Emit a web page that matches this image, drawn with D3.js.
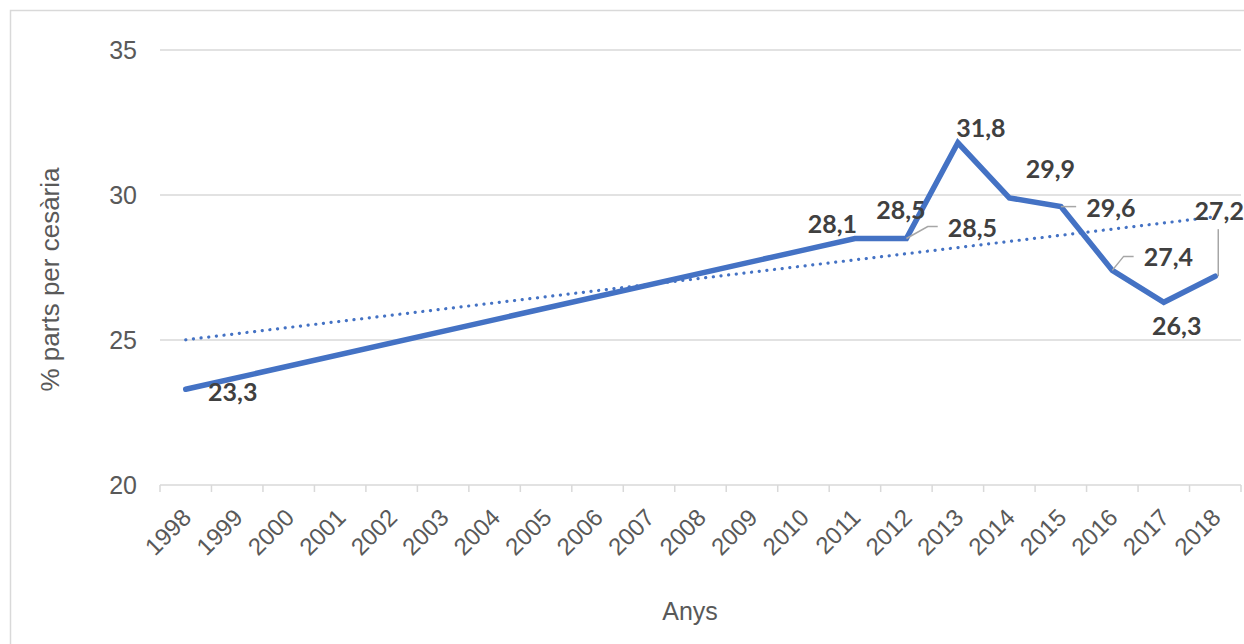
<!DOCTYPE html>
<html>
<head>
<meta charset="utf-8">
<script src="https://cdn.jsdelivr.net/npm/d3@7/dist/d3.min.js"></script>
<style>
  html, body { margin: 0; padding: 0; background: #fff; }
  svg { display: block; }
</style>
</head>
<body>
<svg id="chart" width="1244" height="644"></svg>
<script>
// Caesarean births (% of deliveries) by year
const years = ["1998","1999","2000","2001","2002","2003","2004","2005","2006","2007",
               "2008","2009","2010","2011","2012","2013","2014","2015","2016","2017","2018"];
// null = no data for that year; the line is joined across the gap
const values = [23.3, null, null, null, null, null, null, null, null, null,
                null, null, 28.1, 28.5, 28.5, 31.8, 29.9, 29.6, 27.4, 26.3, 27.2];
const yTicks = [20, 25, 30, 35];
const yTitle = "% parts per cesària";
const xTitle = "Anys";

// Hand-placed data label offsets (from the point) and which ones use a leader line
const labelPlacement = {
  "1998": { dx: 47, dy: 2 },
  "2010": { dx: 29, dy: -27 },
  "2011": { dx: 46, dy: -30 },
  "2012": { dx: 66, dy: -12, leader: "elbow" },
  "2013": { dx: 23, dy: -16 },
  "2014": { dx: 41, dy: -30 },
  "2015": { dx: 50, dy: 0, leader: "elbow" },
  "2016": { dx: 56, dy: -14, leader: "elbow" },
  "2017": { dx: 13, dy: 23 },
  "2018": { dx: 4, dy: -66, leader: "vertical" }
};

const svg = d3.select("#chart");
const plot = { left: 160, right: 1241, top: 50, bottom: 485 };
const blue = "#4472C4";
const grid = "#d9d9d9";
const textGrey = "#595959";
const sans = "'Liberation Sans', Arial, sans-serif";

// Outer chart frame
svg.append("rect")
  .attr("x", 10.5).attr("y", 10.5)
  .attr("width", 1400).attr("height", 800)
  .attr("fill", "#fff").attr("stroke", grid).attr("stroke-width", 1.5);

const x = d3.scaleBand().domain(years).range([plot.left, plot.right]).padding(0);
const y = d3.scaleLinear().domain([20, 35]).range([plot.bottom, plot.top]);
const cx = d => x(d) + x.bandwidth() / 2;

// Horizontal gridlines
svg.append("g")
  .selectAll("line")
  .data(yTicks.filter(t => t !== 20))
  .join("line")
  .attr("x1", plot.left).attr("x2", plot.right)
  .attr("y1", d => y(d)).attr("y2", d => y(d))
  .attr("stroke", grid).attr("stroke-width", 1.5);

// Y axis labels
const yAxis = d3.axisLeft(y).tickValues(yTicks).tickSize(0).tickPadding(0);
const gy = svg.append("g").attr("transform", `translate(${plot.left - 23},0)`).call(yAxis);
gy.select(".domain").remove();
gy.selectAll("text")
  .attr("fill", textGrey)
  .style("font-family", sans)
  .style("font-size", "25px");

// X axis: baseline, category-boundary ticks, rotated year labels
const xAxis = d3.axisBottom(x).tickSize(0).tickPadding(0);
const gx = svg.append("g").attr("transform", `translate(0,${plot.bottom})`).call(xAxis);
gx.select(".domain").remove();
gx.append("line")
  .attr("x1", plot.left).attr("x2", plot.right)
  .attr("y1", 0).attr("y2", 0)
  .attr("stroke", grid).attr("stroke-width", 1.5);
gx.selectAll(".bound")
  .data(years.map(d => x(d)).concat([plot.right]))
  .join("line")
  .attr("class", "bound")
  .attr("x1", d => d).attr("x2", d => d)
  .attr("y1", 0).attr("y2", 7)
  .attr("stroke", grid).attr("stroke-width", 1.5);
gx.selectAll(".tick text")
  .attr("fill", textGrey)
  .style("font-family", sans)
  .style("font-size", "24px")
  .attr("text-anchor", "end")
  .attr("dy", null)
  .attr("y", 0)
  .attr("transform", "translate(7,34) rotate(-45)");

// Axis titles
svg.append("text")
  .attr("transform", `translate(50,${(plot.top + plot.bottom) / 2 + 12}) rotate(-90)`)
  .attr("text-anchor", "middle")
  .attr("dominant-baseline", "central")
  .attr("fill", textGrey)
  .style("font-family", sans)
  .style("font-size", "26px")
  .text(yTitle);

svg.append("text")
  .attr("x", 690).attr("y", 620)
  .attr("text-anchor", "middle")
  .attr("fill", textGrey)
  .style("font-family", sans)
  .style("font-size", "25px")
  .text(xTitle);

const pts = years.map((yr, i) => ({ yr, i, v: values[i] })).filter(p => p.v != null);

// Linear trendline (least squares on category index)
const mx = d3.mean(pts, p => p.i), my = d3.mean(pts, p => p.v);
const slope = d3.sum(pts, p => (p.i - mx) * (p.v - my)) / d3.sum(pts, p => (p.i - mx) ** 2);
const icpt = my - slope * mx;
const trend = [0, years.length - 1].map(i => ({ yr: years[i], v: icpt + slope * i }));

svg.append("path")
  .datum(trend)
  .attr("d", d3.line().x(p => cx(p.yr)).y(p => y(p.v)))
  .attr("fill", "none")
  .attr("stroke", blue)
  .attr("stroke-width", 3.2)
  .attr("stroke-linecap", "round")
  .attr("stroke-dasharray", "0.1 7.6");

// Data line
svg.append("path")
  .datum(pts)
  .attr("d", d3.line().x(p => cx(p.yr)).y(p => y(p.v)))
  .attr("fill", "none")
  .attr("stroke", blue)
  .attr("stroke-width", 5.5)
  .attr("stroke-linejoin", "miter")
  .attr("stroke-linecap", "round");

// Data labels
const fmt = v => d3.format(".1f")(v).replace(".", ",");
const lblG = svg.append("g");
pts.forEach(p => {
  const pl = labelPlacement[p.yr];
  if (!pl) return;
  const px = cx(p.yr), py = y(p.v);
  const lx = px + pl.dx, ly = py + pl.dy;
  const t = lblG.append("text")
    .attr("x", lx).attr("y", ly)
    .attr("text-anchor", "middle")
    .attr("dominant-baseline", "central")
    .attr("fill", "#404040")
    .style("font-family", "Lato, 'Open Sans', sans-serif")
    .style("font-weight", "700")
    .style("font-size", "25px")
    .text(fmt(p.v));
  const hw = t.node().getComputedTextLength() / 2;
  let d = null;
  if (pl.leader === "elbow") {
    const ex = lx - hw - 10;
    d = `M${px},${py} L${ex - 10},${ly} L${ex},${ly}`;
  } else if (pl.leader === "vertical") {
    d = `M${lx - 1},${ly + 19} L${lx - 1},${py}`;
  }
  if (d) {
    lblG.insert("path", "text")
      .attr("d", d)
      .attr("fill", "none")
      .attr("stroke", "#a6a6a6")
      .attr("stroke-width", 1.5);
  }
});
</script>
</body>
</html>
